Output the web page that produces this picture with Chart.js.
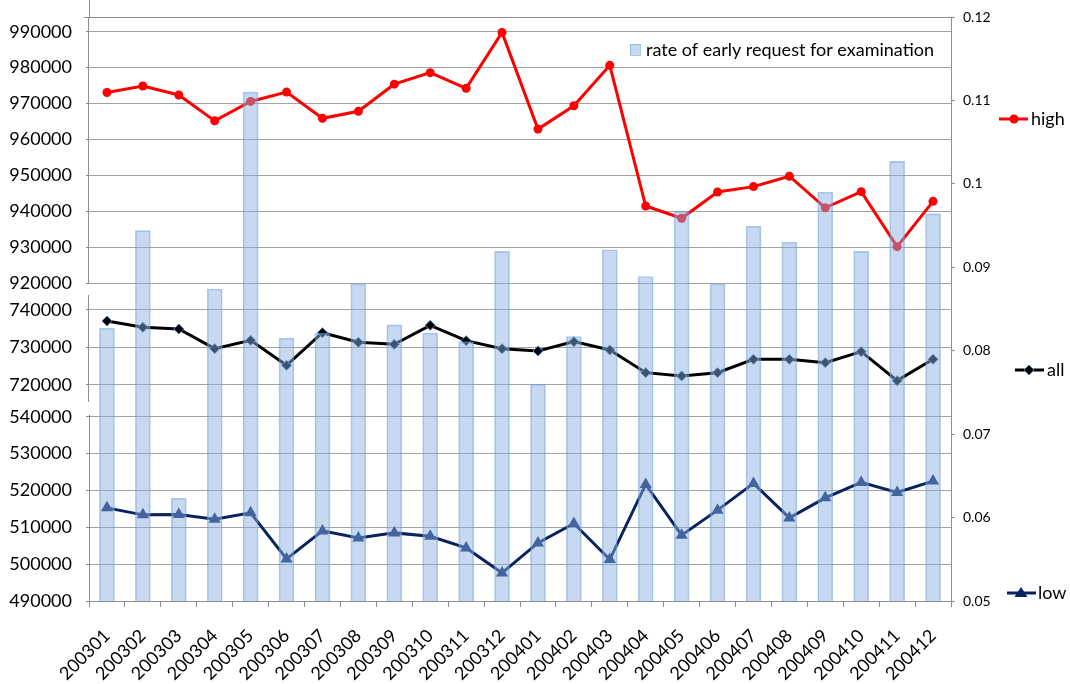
<!DOCTYPE html>
<html><head><meta charset="utf-8">
<script src="https://cdn.jsdelivr.net/npm/chart.js@4.4.1/dist/chart.umd.min.js"></script>
<style>html,body{margin:0;padding:0;background:#fff}canvas{display:block}</style>
</head><body>
<canvas id="c" width="1070" height="684"></canvas>
<script>
const categories = ['200301','200302','200303','200304','200305','200306','200307','200308','200309','200310','200311','200312',
  '200401','200402','200403','200404','200405','200406','200407','200408','200409','200410','200411','200412'];
const highValues = [973100, 974900, 972400, 965200, 970600, 973200, 965900, 967850, 975400, 978600, 974250, 989800,
  962900, 969400, 980650, 941500, 938100, 945400, 946900, 949800, 941000, 945500, 930200, 942800];
const allValues = [737070, 735380, 734930, 729690, 731900, 725240, 733950, 731380, 730840, 735900, 731820, 729690,
  729070, 731560, 729330, 723290, 722400, 723290, 726850, 726850, 725960, 728890, 721160, 726850];
const lowValues = [515270, 513370, 513480, 512200, 513910, 501410, 509020, 507120, 508480, 507580, 504400, 497610,
  505760, 511030, 501250, 521630, 507850, 514650, 521900, 512550, 517990, 522170, 519460, 522530];
const rateValues = [0.0827, 0.0944, 0.0623, 0.0874, 0.1110, 0.0815, 0.0821, 0.0880, 0.0831, 0.0821, 0.0811, 0.0919,
  0.0760, 0.0817, 0.0921, 0.0889, 0.0967, 0.0880, 0.0949, 0.0930, 0.0990, 0.0919, 0.1027, 0.0964];

const highTicks = [990000, 980000, 970000, 960000, 950000, 940000, 930000, 920000];
const allTicks = [740000, 730000, 720000];
const lowTicks = [540000, 530000, 520000, 510000, 500000, 490000];
const rateTicks = [0.05, 0.06, 0.07, 0.08, 0.09, 0.1, 0.11, 0.12];
const highRange = [918140, 994090];
const allRange = [716000, 745330];
const lowRange = [490000, 544530];
const rateRange = [0.05, 0.12];

const FONT = 'Lato, "Liberation Sans", sans-serif';
const GRID = '#a3a3a3';
const AXIS = '#8e8e8e';
const BAR_FILL = 'rgba(135,175,225,0.475)';
const BAR_EDGE = 'rgba(105,155,222,0.55)';
const HIGH_C = '#ff0000';
const ALL_C = '#000000';
const LOW_C = '#08225f';

function noPad(ax) { ax.paddingTop = 0; ax.paddingBottom = 0; ax.paddingLeft = 0; ax.paddingRight = 0; }

function leftAxis(range, ticks, weight) {
  return {
    type: 'linear', position: 'left', stack: 'left', stackWeight: weight,
    min: range[0], max: range[1],
    afterBuildTicks: ax => { ax.ticks = ticks.map(v => ({ value: v })); },
    afterFit: ax => { ax.width = 89; noPad(ax); },
    grid: { color: GRID, lineWidth: 1, drawTicks: true, tickLength: 3, tickColor: AXIS },
    border: { display: false },
    ticks: { font: { family: FONT, size: 18 }, color: '#000', padding: 14, autoSkip: false,
      callback: v => ticks.includes(v) ? String(v) : '' }
  };
}

const decor = {
  id: 'decor',
  beforeDatasetsDraw(chart) {
    const ctx = chart.ctx, ca = chart.chartArea;
    const sH = chart.scales.yHigh, sA = chart.scales.yAll, sL = chart.scales.yLow;
    ctx.save();
    ctx.strokeStyle = AXIS; ctx.lineWidth = 1;
    const seg = (x1, y1, x2, y2) => { ctx.beginPath(); ctx.moveTo(x1, y1); ctx.lineTo(x2, y2); ctx.stroke(); };
    const top = Math.round(ca.top) + 0.5;
    seg(ca.left - 5, top, ca.right, top);
    seg(Math.round(ca.left) + 0.5, 0, Math.round(ca.left) + 0.5, top);
    const lx = Math.round(ca.left) - 0.5;
    seg(lx, top, lx, sH.getPixelForValue(highTicks[highTicks.length - 1]));
    seg(lx, sA.top + 5, lx, sA.bottom + 2);
    seg(lx + 1, sL.getPixelForValue(lowTicks[0]) - 2, lx + 1, ca.bottom);
    ctx.restore();
  },
  afterDraw(chart) {
    const ctx = chart.ctx;
    ctx.save();
    ctx.font = '18px ' + FONT;
    ctx.textBaseline = 'middle';
    ctx.textAlign = 'left';
    // bar legend
    ctx.fillStyle = BAR_FILL; ctx.fillRect(630, 44, 10, 11);
    ctx.strokeStyle = BAR_EDGE; ctx.lineWidth = 1; ctx.strokeRect(630.5, 44.5, 10, 11);
    ctx.fillStyle = '#000';
    ctx.fillText('rate of early request for examination', 646, 50);
    const lineSeg = (x1, x2, y, c) => { ctx.strokeStyle = c; ctx.lineWidth = 3; ctx.beginPath(); ctx.moveTo(x1, y); ctx.lineTo(x2, y); ctx.stroke(); };
    // high
    let y = 119;
    lineSeg(999, 1028, y, HIGH_C);
    ctx.fillStyle = HIGH_C; ctx.beginPath(); ctx.arc(1014, y, 4.5, 0, Math.PI * 2); ctx.fill();
    ctx.fillStyle = '#000'; ctx.fillText('high', 1031, y);
    // all
    y = 370;
    lineSeg(1015, 1044, y, ALL_C);
    ctx.beginPath(); ctx.moveTo(1029, y - 5); ctx.lineTo(1034, y); ctx.lineTo(1029, y + 5); ctx.lineTo(1024, y); ctx.closePath();
    ctx.fillStyle = '#000'; ctx.fill(); ctx.strokeStyle = '#4a7ebb'; ctx.lineWidth = 1; ctx.stroke();
    ctx.fillStyle = '#000'; ctx.fillText('all', 1047, y);
    // low
    y = 593;
    lineSeg(1007, 1036, y, LOW_C);
    ctx.beginPath(); ctx.moveTo(1021, y - 6); ctx.lineTo(1027.5, y + 4); ctx.lineTo(1014.5, y + 4); ctx.closePath();
    ctx.fillStyle = LOW_C; ctx.fill();
    ctx.fillStyle = '#000'; ctx.fillText('low', 1038, y);
    ctx.restore();
  }
};

new Chart(document.getElementById('c'), {
  type: 'bar',
  data: {
    labels: categories,
    datasets: [
      { type: 'bar', label: 'rate of early request for examination', data: rateValues, yAxisID: 'yRate', order: 0,
        backgroundColor: BAR_FILL, borderColor: BAR_EDGE, borderWidth: 1, barThickness: 15 },
      { type: 'line', label: 'high', data: highValues, yAxisID: 'yHigh', order: 1,
        borderColor: HIGH_C, backgroundColor: HIGH_C, borderWidth: 3, tension: 0,
        pointStyle: 'circle', pointRadius: 4.5, pointBorderWidth: 0 },
      { type: 'line', label: 'all', data: allValues, yAxisID: 'yAll', order: 1,
        borderColor: ALL_C, backgroundColor: '#000', borderWidth: 3, tension: 0,
        pointStyle: 'rectRot', pointRadius: 5, pointBorderColor: '#4a7ebb', pointBorderWidth: 1 },
      { type: 'line', label: 'low', data: lowValues, yAxisID: 'yLow', order: 1,
        borderColor: LOW_C, backgroundColor: LOW_C, borderWidth: 3, tension: 0,
        pointStyle: 'triangle', pointRadius: 7, pointBorderWidth: 0 }
    ]
  },
  options: {
    responsive: false, animation: false, devicePixelRatio: 1,
    layout: { padding: { top: 17, left: 0, right: 0, bottom: 0 } },
    plugins: { legend: { display: false }, tooltip: { enabled: false } },
    scales: {
      x: {
        type: 'category', offset: true,
        afterFit: ax => { ax.height = 83; noPad(ax); },
        grid: { offset: true, drawOnChartArea: false, drawTicks: true, tickLength: 6, color: AXIS },
        border: { display: true, color: AXIS },
        ticks: { font: { family: FONT, size: 18 }, color: '#000', minRotation: 45, maxRotation: 45, autoSkip: false, padding: 18 }
      },
      yLow: leftAxis(lowRange, lowTicks, 201),
      yAll: leftAxis(allRange, allTicks, 110),
      yHigh: leftAxis(highRange, highTicks, 273),
      yRate: {
        type: 'linear', position: 'right', min: rateRange[0], max: rateRange[1],
        afterBuildTicks: ax => { ax.ticks = rateTicks.map(v => ({ value: v })); },
        afterFit: ax => { ax.width = 119; noPad(ax); },
        grid: { drawOnChartArea: false, drawTicks: true, tickLength: 4, color: AXIS },
        border: { display: true, color: AXIS },
        ticks: { font: { family: FONT, size: 14 }, color: '#000', padding: 8, autoSkip: false,
          callback: v => String(parseFloat(v.toFixed(2))) }
      }
    }
  },
  plugins: [decor]
});
</script>
</body></html>
